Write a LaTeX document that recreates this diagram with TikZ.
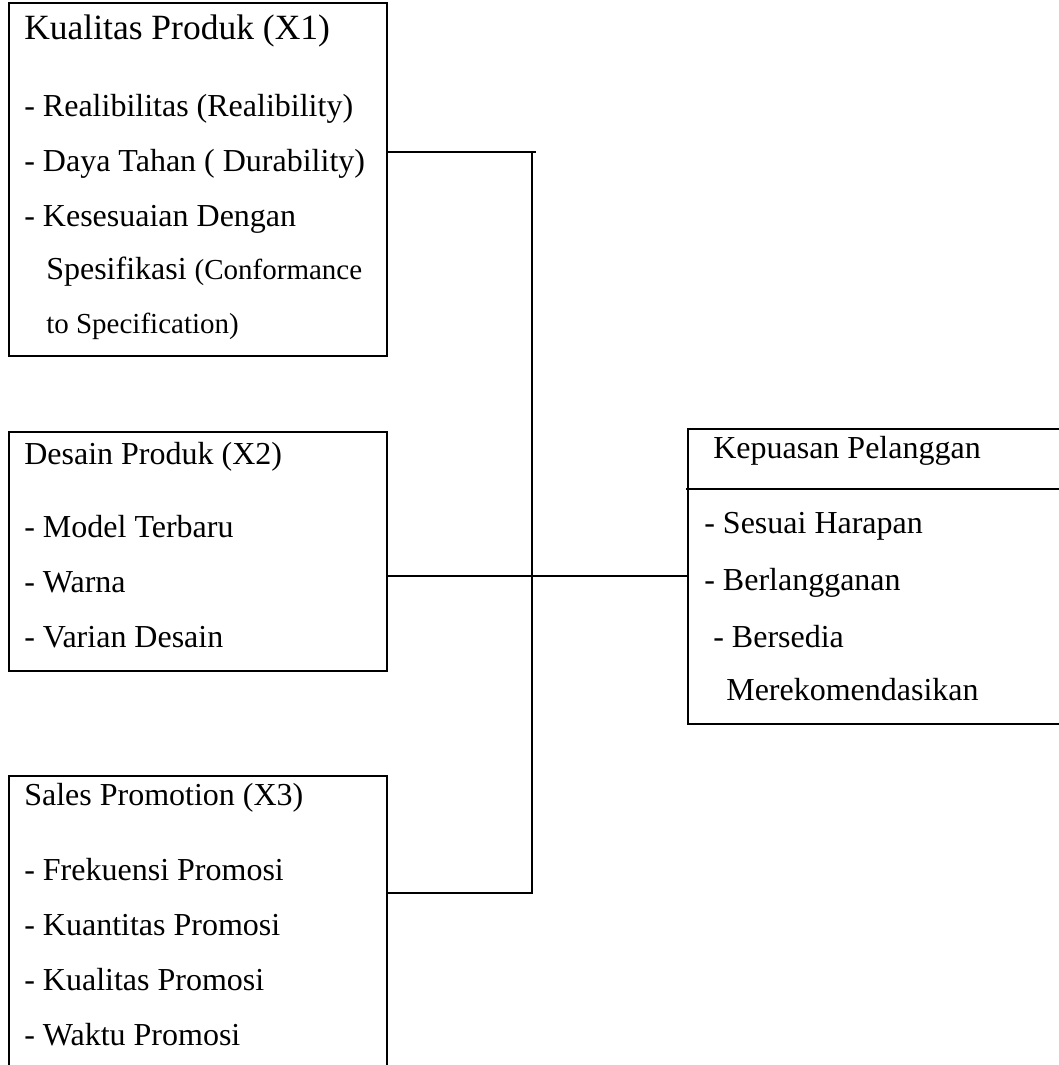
\documentclass[tikz,border=0pt]{standalone}
\usepackage{fontspec}
\setmainfont{Liberation Serif}
\begin{document}
\begin{tikzpicture}[x=1pt,y=-1pt,line width=2.6pt,
  txt/.style={anchor=base west,inner sep=0pt,font=\fontsize{32}{38}\selectfont},
  stxt/.style={anchor=base west,inner sep=0pt,font=\fontsize{29}{34}\selectfont},
  conn/.style={line width=2.4pt}]
\useasboundingbox (0,0) rectangle (1059,1065);
\clip (0,0) rectangle (1059,1065);
% boxes
\draw (9,3) rectangle (387,356);
\draw (9,432) rectangle (387,671);
\draw (9,1090) -- (9,776) -- (387,776) -- (387,1090);
\draw (1075,429) -- (688,429) -- (688,724) -- (1075,724);
\draw (686,489) -- (1075,489);
% box 1 text
\node[txt,font=\fontsize{35.5}{40}\selectfont] (t1) at (23,40) {Kualitas Produk (X1)};
\node[txt] (a1) at (23,116) {- Realibilitas (Realibility)};
\node[txt] (a2) at (23,171) {- Daya Tahan ( Durability)};
\node[txt] (a3) at (23,226) {- Kesesuaian Dengan};
\node[txt] (a4) at (45,279) {Spesifikasi \fontsize{29}{34}\selectfont(Conformance};
\node[stxt] (a5) at (45,333) {to Specification)};
% box 2 text
\node[txt] (t2) at (23,464) {Desain Produk (X2)};
\node[txt] (b1) at (23,537) {- Model Terbaru};
\node[txt] (b2) at (23,592) {- Warna};
\node[txt] (b3) at (23,647) {- Varian Desain};
% box 3 text
\node[txt] (t3) at (23,805) {Sales Promotion (X3)};
\node[txt] (s1) at (23,880) {- Frekuensi Promosi};
\node[txt] (s2) at (23,935) {- Kuantitas Promosi};
\node[txt] (s3) at (23,990) {- Kualitas Promosi};
\node[txt] (s4) at (23,1045) {- Waktu Promosi};
% right box text
\node[txt] (ty) at (712,458) {Kepuasan Pelanggan};
\node[txt] (y1) at (703,533) {- Sesuai Harapan};
\node[txt] (y2) at (703,590) {- Berlangganan};
\node[txt] (y3) at (712,647) {- Bersedia};
\node[txt] (y4) at (725,700) {Merekomendasikan};
% connectors
\coordinate (c1) at (387,152);
\coordinate (c1e) at (536,152);
\coordinate (j1) at (532,152);
\coordinate (j3) at (532,893);
\coordinate (c3) at (387,893);
\coordinate (c2) at (387,576);
\coordinate (k) at (688,576);
\draw[conn] (c1) -- (c1e);
\draw[conn] (j1) -- (j3) -- (c3);
\draw[conn] (c2) -- (k);
\end{tikzpicture}
\end{document}
